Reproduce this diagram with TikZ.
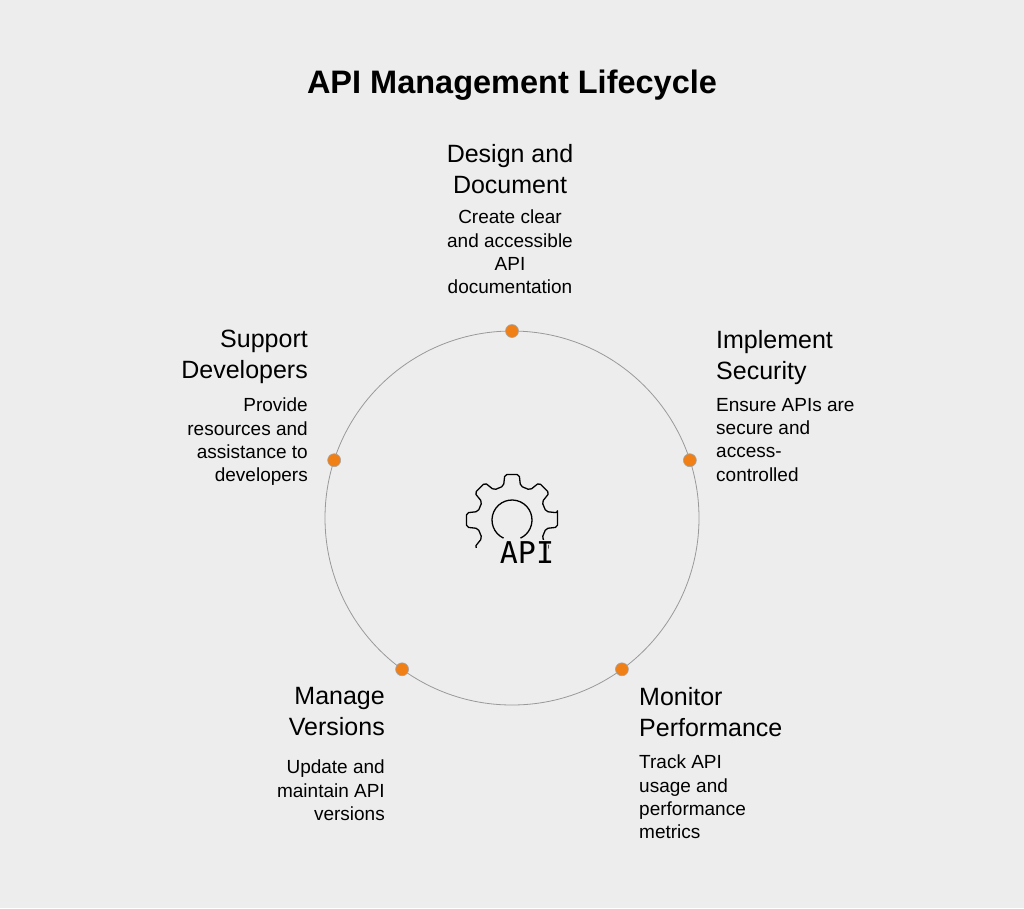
\documentclass[tikz,border=0pt]{standalone}
\usepackage{fontspec}
\setmainfont{Liberation Sans}
\newfontfamily\monof{DejaVu Sans Mono}
\definecolor{bg}{HTML}{EDEDED}
\definecolor{dotc}{HTML}{F07F16}
\begin{document}
\begin{tikzpicture}[x=1pt,y=-1pt,
  head/.style={inner sep=0pt,font=\fontsize{25}{31}\selectfont},
  body/.style={inner sep=0pt,font=\fontsize{19}{23.3}\selectfont},
  dot/.style={circle,fill=dotc,draw=gray!70,line width=0.6pt,minimum size=13pt,inner sep=0pt}]
\fill[bg] (0,0) rectangle (1024,908);
\useasboundingbox (0,0) rectangle (1024,908);
\node[inner sep=0pt,font=\fontsize{32.5}{36}\selectfont\bfseries] (title) at (512,85) {API Management Lifecycle};
\coordinate (c) at (512,518);
\draw[gray!80,line width=0.8pt] (c) circle[radius=187];
\path (c) ++(0,-187) node[dot] (d1) {};
\path (c) ++(-18:187) node[dot] (d2) {};
\path (c) ++(54:187) node[dot] (d3) {};
\path (c) ++(126:187) node[dot] (d4) {};
\path (c) ++(198:187) node[dot] (d5) {};
% gear
\begin{scope}[shift={(512,520)},line width=1.3pt,line join=round]
\draw[rounded corners=2pt] (-9:46)
  \foreach \k in {0,...,7}{ -- (\k*45-9:46) -- (\k*45+9:46) -- (\k*45+14:35) -- (\k*45+31:35)} -- cycle;
\fill[bg] (-20,20) rectangle (36,50);
\fill[bg] (-40,28) rectangle (-20,50);
\draw (115:20) arc[start angle=115,end angle=425,radius=20];
\node[inner sep=0pt,font=\monof\fontsize{30}{30}\selectfont] (api) at (15,33) {API};
\end{scope}
% texts
\node[head,align=center,anchor=north] (h1) at (510,144) {Design and\\Document};
\node[body,align=center,anchor=north] (b1) at (510,210) {Create clear\\and accessible\\API\\documentation};
\node[head,align=left,anchor=north west] (h2) at (716,330) {Implement\\Security};
\node[body,align=left,anchor=north west] (b2) at (716,398) {Ensure APIs are\\secure and\\access-\\controlled};
\node[head,align=right,anchor=north east] (h5) at (308,330) {Support\\Developers};
\node[body,align=right,anchor=north east] (b5) at (308,398) {Provide\\resources and\\assistance to\\developers};
\node[head,align=left,anchor=north west] (h3) at (639,687) {Monitor\\Performance};
\node[body,align=left,anchor=north west] (b3) at (639,755) {Track API\\usage and\\performance\\metrics};
\node[head,align=right,anchor=north east] (h4) at (385,687) {Manage\\Versions};
\node[body,align=right,anchor=north east] (b4) at (385,760) {Update and\\maintain API\\versions};
\end{tikzpicture}
\end{document}
